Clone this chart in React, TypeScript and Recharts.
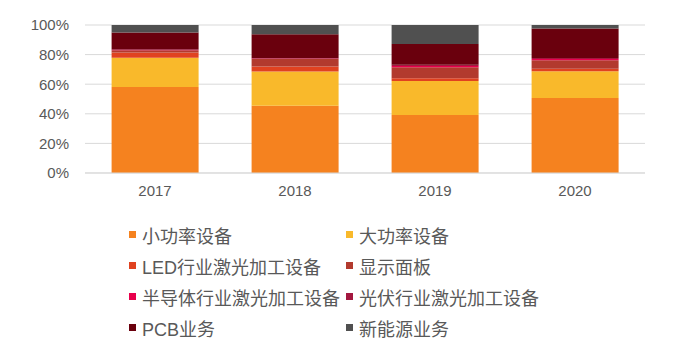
import { BarChart, Bar, CartesianGrid, XAxis, YAxis } from "recharts";

const years = ["2017", "2018", "2019", "2020"];

// 各业务占比 (%)
const smallPower = [58.1, 45.5, 39.2, 50.7];
const highPower = [19.8, 23.0, 23.0, 18.0];
const ledLaser = [3.6, 3.4, 1.8, 1.8];
const displayPanel = [1.4, 5.2, 7.4, 5.6];
const semiconductor = [0.2, 0.2, 0.9, 0.9];
const photovoltaic = [0.5, 0.2, 0.9, 0.7];
const pcb = [11.3, 16.2, 13.9, 19.9];
const newEnergy = [5.1, 6.3, 12.9, 2.4];

const yTicks = [0, 20, 40, 60, 80, 100];

const series = [
  { key: "small", name: "小功率设备", values: smallPower, color: "#F5821F" },
  { key: "high", name: "大功率设备", values: highPower, color: "#F9B92B" },
  { key: "led", name: "LED行业激光加工设备", values: ledLaser, color: "#E04220" },
  { key: "panel", name: "显示面板", values: displayPanel, color: "#B23A2E" },
  { key: "semi", name: "半导体行业激光加工设备", values: semiconductor, color: "#E8004C" },
  { key: "pv", name: "光伏行业激光加工设备", values: photovoltaic, color: "#A3173F" },
  { key: "pcb", name: "PCB业务", values: pcb, color: "#6A000D" },
  { key: "ne", name: "新能源业务", values: newEnergy, color: "#505050" },
];

const data = years.map((year, i) => {
  const row: Record<string, string | number> = { year };
  series.forEach((s) => {
    row[s.key] = s.values[i];
  });
  return row;
});

const FONT = "'Liberation Sans', Arial, 'Noto Sans CJK SC', sans-serif";

export default function App() {
  return (
    <div
      style={{
        position: "absolute",
        left: 0,
        top: 0,
        width: 688,
        height: 352,
        background: "#fff",
        fontFamily: FONT,
      }}
    >
      <BarChart
        width={688}
        height={352}
        data={data}
        margin={{ top: 25, right: 43, bottom: 149, left: 0 }}
        barCategoryGap="19%"
      >
        <CartesianGrid vertical={false} stroke="#d9d9d9" />
        <XAxis
          dataKey="year"
          axisLine={{ stroke: "#d9d9d9" }}
          tickLine={false}
          height={30}
          tickMargin={6}
          tick={{ fill: "#595959", fontSize: 15, fontFamily: FONT }}
        />
        <YAxis
          width={85}
          domain={[0, 100]}
          ticks={yTicks}
          allowDataOverflow
          axisLine={false}
          tickLine={false}
          tickMargin={10}
          tickFormatter={(v) => `${v}%`}
          tick={{ fill: "#595959", fontSize: 15, fontFamily: FONT }}
        />
        {series.map((s) => (
          <Bar
            key={s.key}
            dataKey={s.key}
            name={s.name}
            stackId="a"
            fill={s.color}
            isAnimationActive={false}
          />
        ))}
      </BarChart>

      {/* 图例 */}
      <div
        style={{
          position: "absolute",
          left: 129,
          top: 219,
          display: "grid",
          gridTemplateColumns: "217px 220px",
          fontSize: 18,
          color: "#595959",
        }}
      >
        {series.map((s) => (
          <div
            key={s.key}
            style={{ display: "flex", alignItems: "center", height: 31 }}
          >
            <span
              style={{
                width: 7,
                height: 7,
                background: s.color,
                marginRight: 6,
                flexShrink: 0,
              }}
            />
            <span style={{ whiteSpace: "nowrap" }}>{s.name}</span>
          </div>
        ))}
      </div>
    </div>
  );
}
